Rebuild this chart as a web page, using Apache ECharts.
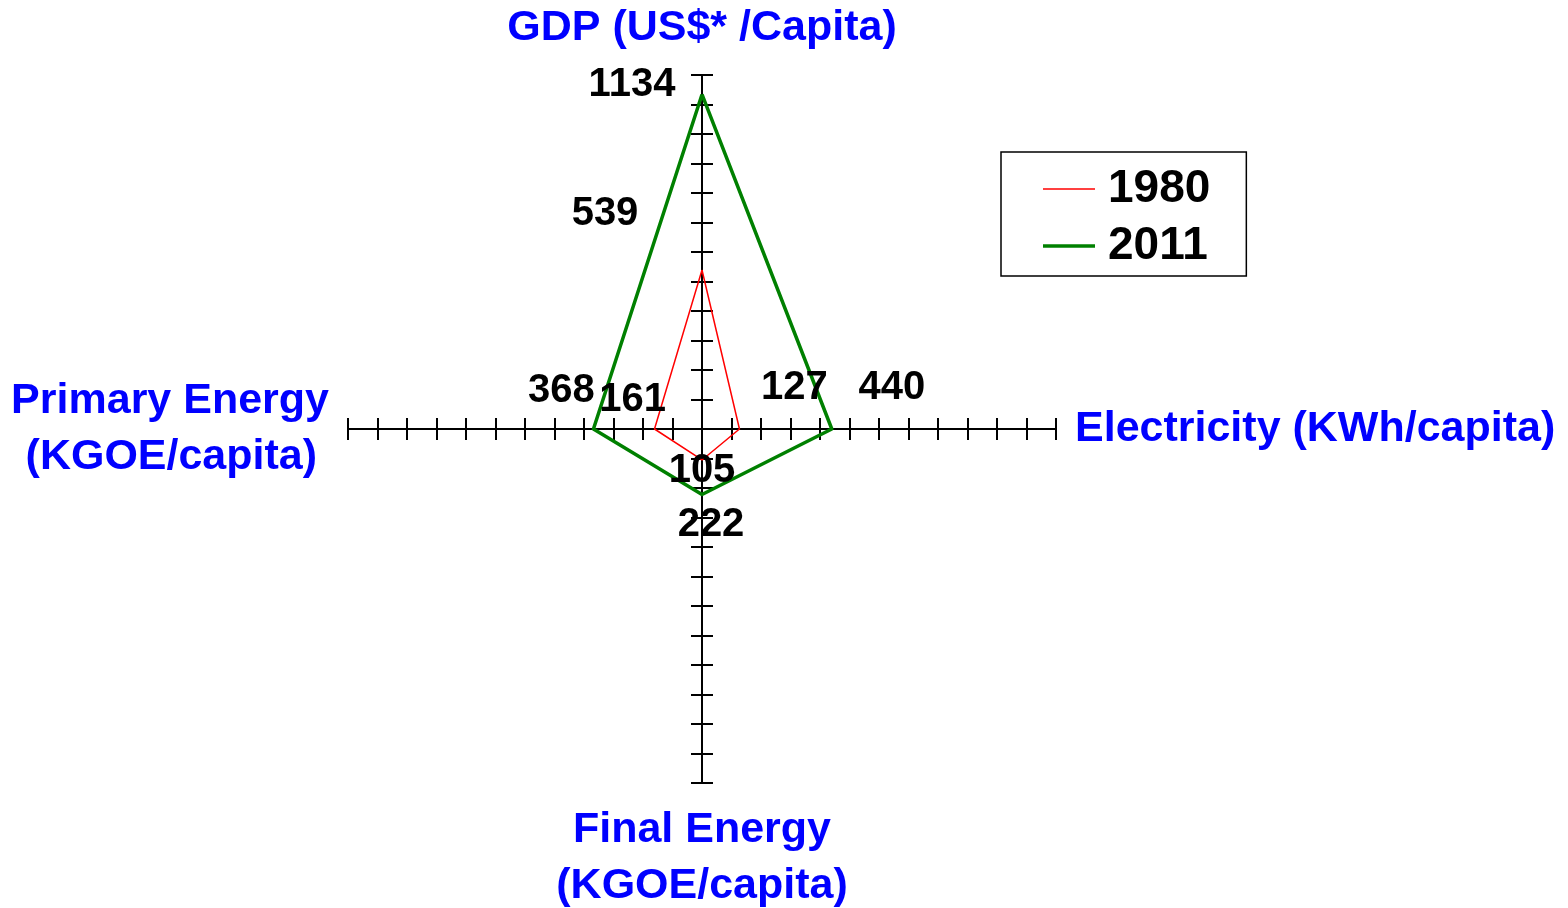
<!DOCTYPE html>
<html>
<head>
<meta charset="utf-8">
<script src="https://cdn.jsdelivr.net/npm/echarts@6/dist/echarts.min.js"></script>
<style>
    html, body { margin: 0; padding: 0; background: #fff; }
    #chart { width: 1568px; height: 908px; }
</style>
</head>
<body>
<div id="chart"></div>
<script>
// radar axes, counter-clockwise starting at the top
const indicators = ['GDP (US$* /Capita)', 'Primary Energy\n(KGOE/capita) ', 'Final Energy\n(KGOE/capita)', 'Electricity (KWh/capita)'];
const axisMax = 1200;
const years = ['1980', '2011'];
const values1980 = [539, 161, 105, 127];
const values2011 = [1134, 368, 222, 440];

const FONT = "'Liberation Sans', Arial, Helvetica, sans-serif";
const colors = { '1980': '#ff0000', '2011': '#008000' };
const widths = { '1980': 1.5, '2011': 3.5 };

// where each value label sits relative to its vertex (same order as indicators)
const labelOffsets = {
    '1980': [[-97, -56], [-22, -29], [0, 11], [55, -41]],
    '2011': [[-70, -10], [-32, -38], [9, 30], [60, -41]]
};

const chart = echarts.init(document.getElementById('chart'));

// radar draws ticks on one side only; a second, overlapping radar with a
// negative tick length gives the ticks on the other side
function radarAxes(tickLen, showName) {
    return {
        center: [702, 429],
        radius: 354,
        startAngle: 90,
        shape: 'polygon',
        splitNumber: 12,
        indicator: indicators.map(n => ({ name: n, min: 0, max: axisMax })),
        axisName: {
            show: showName,
            color: '#0000ff',
            fontFamily: FONT,
            fontSize: 43,
            fontWeight: 'bold',
            lineHeight: 56
        },
        nameGap: 19,
        axisLine: { show: true, lineStyle: { color: '#000', width: 2 } },
        axisTick: { show: true, length: tickLen, lineStyle: { color: '#000', width: 2 } },
        axisLabel: { show: false },
        splitLine: { show: false },
        splitArea: { show: false }
    };
}

const valuesByYear = { '1980': values1980, '2011': values2011 };

// one invisible data item per value label
const labelItems = [];
years.forEach(y => {
    indicators.forEach((_, i) => {
        labelItems.push({
            value: valuesByYear[y],
            label: {
                show: true,
                position: 'inside',
                offset: labelOffsets[y][i],
                color: '#000',
                fontFamily: FONT,
                fontSize: 40,
                fontWeight: 'bold',
                formatter: p => (p.dimensionIndex === i ? String(p.value) : '')
            }
        });
    });
});

const option = {
    animation: false,
    radar: [radarAxes(11, true), radarAxes(-11, false)],
    legend: {
        orient: 'vertical',
        left: 1001,
        top: 152,
        data: [
            { name: '1980', icon: 'path://M0,0H52V1.3H0Z', itemStyle: { color: colors['1980'] } },
            { name: '2011', icon: 'path://M0,0H52V3.5H0Z', itemStyle: { color: colors['2011'] } }
        ],
        symbolKeepAspect: true,
        itemWidth: 52,
        itemHeight: 4,
        itemGap: 11,
        padding: [14, 36, 7, 42],
        borderColor: '#000',
        borderWidth: 1.5,
        textStyle: { color: '#000', fontFamily: FONT, fontSize: 46, fontWeight: 'bold', padding: [0, 0, 0, 8] },
        selectedMode: false
    },
    series: years.map(y => ({
        name: y,
        type: 'radar',
        radarIndex: 0,
        symbol: 'none',
        silent: true,
        color: colors[y],
        lineStyle: { color: colors[y], width: widths[y] },
        data: [{ value: valuesByYear[y], name: y }]
    })).concat([{
        name: 'labels',
        type: 'radar',
        radarIndex: 0,
        symbol: 'circle',
        symbolSize: 1,
        silent: true,
        itemStyle: { color: 'transparent' },
        lineStyle: { opacity: 0 },
        data: labelItems
    }])
};

chart.setOption(option);
window.addEventListener('resize', () => chart.resize());
</script>
</body>
</html>
